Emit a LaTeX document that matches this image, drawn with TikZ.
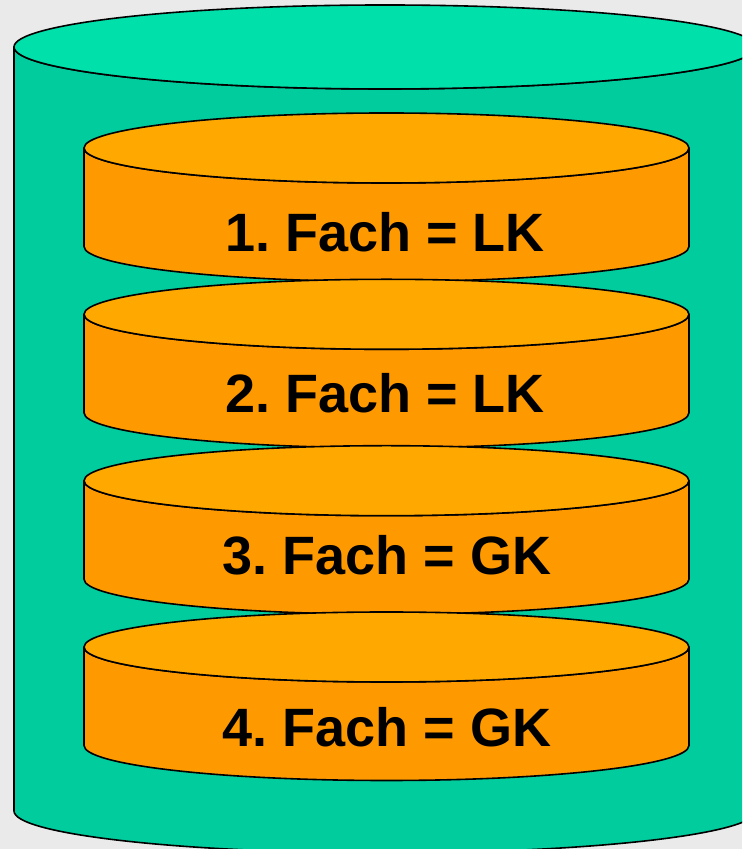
\documentclass[tikz,border=0pt]{standalone}
\usepackage{fontspec}
\setmainfont{Liberation Sans}
\frenchspacing
\definecolor{bgc}{HTML}{EAEAEA}
\definecolor{gside}{HTML}{00CC9E}
\definecolor{gtop}{HTML}{00E0AA}
\definecolor{oside}{HTML}{FF9900}
\definecolor{otop}{HTML}{FFA800}
\tikzset{
  outl/.style={draw=black, line width=1.6pt, line join=round},
  lbl/.style={anchor=base, inner sep=0pt, font=\fontsize{54}{60}\selectfont\bfseries, text=black}
}
\newcommand{\mydisk}[1]{%
  % #1 = y of top ellipse centre (upward coordinates)
  \filldraw[outl, fill=oside] (84,#1) -- ++(0,-98.5) arc[start angle=180, end angle=360, x radius=302.5pt, y radius=35pt] -- ++(0,98.5) arc[start angle=0, end angle=-180, x radius=302.5pt, y radius=35pt] -- cycle;
  \filldraw[outl, fill=otop] (386.5,#1) ellipse[x radius=302.5pt, y radius=35pt];
}
\begin{document}
\begin{tikzpicture}[x=1pt,y=1pt]
\useasboundingbox (0,0) rectangle (742,849);
\clip (0,0) rectangle (742,849);
\fill[bgc] (0,0) rectangle (742,849);
% big cylinder
\filldraw[outl, fill=gside] (14,802) -- (14,38) arc[start angle=180, end angle=360, x radius=371pt, y radius=42pt] -- (756,802) arc[start angle=0, end angle=-180, x radius=371pt, y radius=42pt] -- cycle;
\filldraw[outl, fill=gtop] (385,802) ellipse[x radius=371pt, y radius=42pt];
% disks
\mydisk{701}
\mydisk{534.7}
\mydisk{368.3}
\mydisk{202}
\node[lbl] (t1) at (385,597) {1. Fach = LK};
\node[lbl] (t2) at (385,436) {2. Fach = LK};
\node[lbl] (t3) at (387,274) {3. Fach = GK};
\node[lbl] (t4) at (387,102) {4. Fach = GK};
\end{tikzpicture}
\end{document}
